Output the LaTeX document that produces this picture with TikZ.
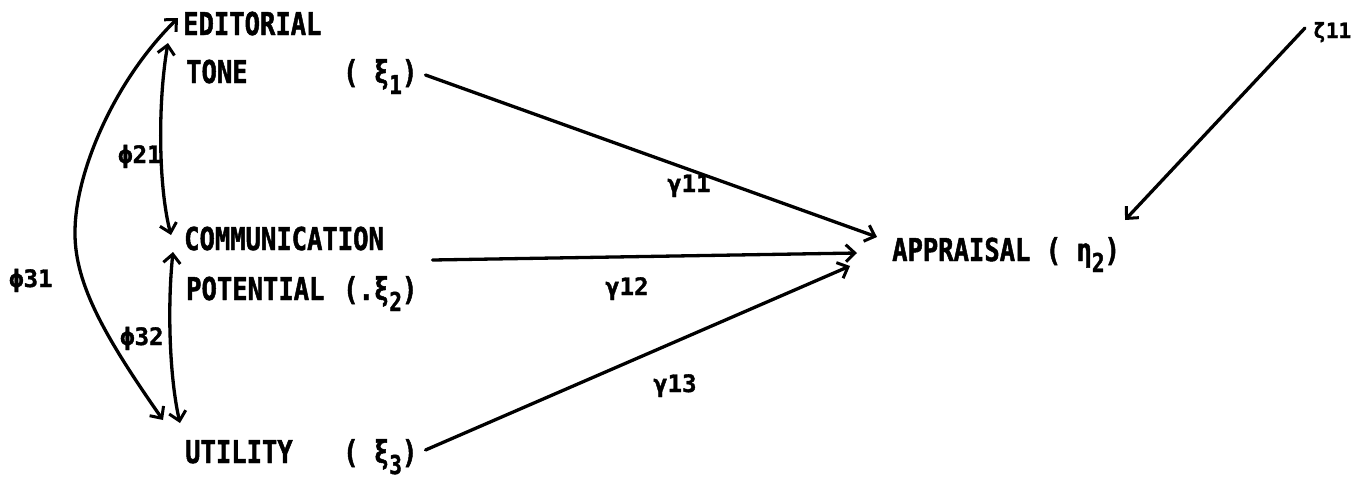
\documentclass[tikz,border=0pt]{standalone}
\usepackage{fontspec}
\setmainfont{DejaVu Sans Mono}
\newfontfamily\tw{DejaVu Sans Mono}[FakeStretch=0.81, BoldFeatures={FakeBold=1.5}]
\newfontfamily\twl{DejaVu Sans Mono}[BoldFeatures={FakeBold=1.5}]
\usetikzlibrary{arrows.meta}
\newcommand{\lowsub}[1]{\raisebox{-11pt}{\fontsize{26}{26}\selectfont #1}}
\begin{document}
\begin{tikzpicture}[x=1pt,y=-1pt,
  lbl/.style={inner sep=0pt, anchor=base west, font=\tw\bfseries\fontsize{31.5}{32}\selectfont},
  sm/.style={inner sep=0pt, anchor=base west, font=\twl\bfseries\fontsize{24}{24}\selectfont},
  tiny/.style={inner sep=0pt, anchor=base west, font=\twl\bfseries\fontsize{21}{21}\selectfont},
  barb/.tip={Straight Barb[length=9pt,width=17pt,line width=3pt]},
  link/.style={line width=3.3pt, -barb, line cap=round},
  corr/.style={line width=3.3pt, barb-barb, line cap=round}]
\useasboundingbox (0,0) rectangle (1359,479);
% variables
\node[lbl] (ed) at (183,35) {EDITORIAL};
\node[lbl] (tone) at (186,83) {TONE};
\node[lbl] (xi1) at (343,83) {( ξ\lowsub{1})};
\node[lbl] (comm) at (184,250) {COMMUNICATION};
\node[lbl] (pot) at (186,300) {POTENTIAL};
\node[lbl] (xi2) at (343,300) {(.ξ\lowsub{2})};
\node[lbl] (util) at (185,463) {UTILITY};
\node[lbl] (xi3) at (343,463) {( ξ\lowsub{3})};
\node[lbl] (appr) at (892,261) {APPRAISAL ( η\lowsub{2})};
\node[tiny] (zeta) at (1313,38) {ζ11};
% labels
\node[sm] (phi21) at (118,163) {ϕ21};
\node[sm] (phi31) at (9,287) {ϕ31};
\node[sm] (phi32) at (120,345) {ϕ32};
\node[sm] (g11) at (667,192) {γ11};
\node[sm] (g12) at (605,295) {γ12};
\node[sm] (g13) at (653,392) {γ13};
% paths
\draw[link] ([shift={(8,-8)}]xi1.base east) -- ([shift={(-15,-24)}]appr.base west);
\draw[link] ([shift={(15,-40)}]xi2.base east) -- ([shift={(-35,-8)}]appr.base west);
\draw[link] ([shift={(8,-13)}]xi3.base east) -- ([shift={(-42,5)}]appr.base west);
\draw[link] ([shift={(-8,-10)}]zeta.base west) -- (1125,220);
% correlations
\draw[corr] ([shift={(-15,8)}]ed.base west) .. controls (158,100) and (158,185) .. ([shift={(-13,-15)}]comm.base west);
\draw[corr] ([shift={(-11,2)}]comm.base west) .. controls (167,310) and (170,380) .. ([shift={(-5,-40)}]util.base west);
\draw[corr] ([shift={(-22,-43)}]util.base west) .. controls (100,330) and (74,280) .. (75,230) .. controls (76,170) and (115,80) .. ([shift={(-5,-17)}]ed.base west);
\end{tikzpicture}
\end{document}
